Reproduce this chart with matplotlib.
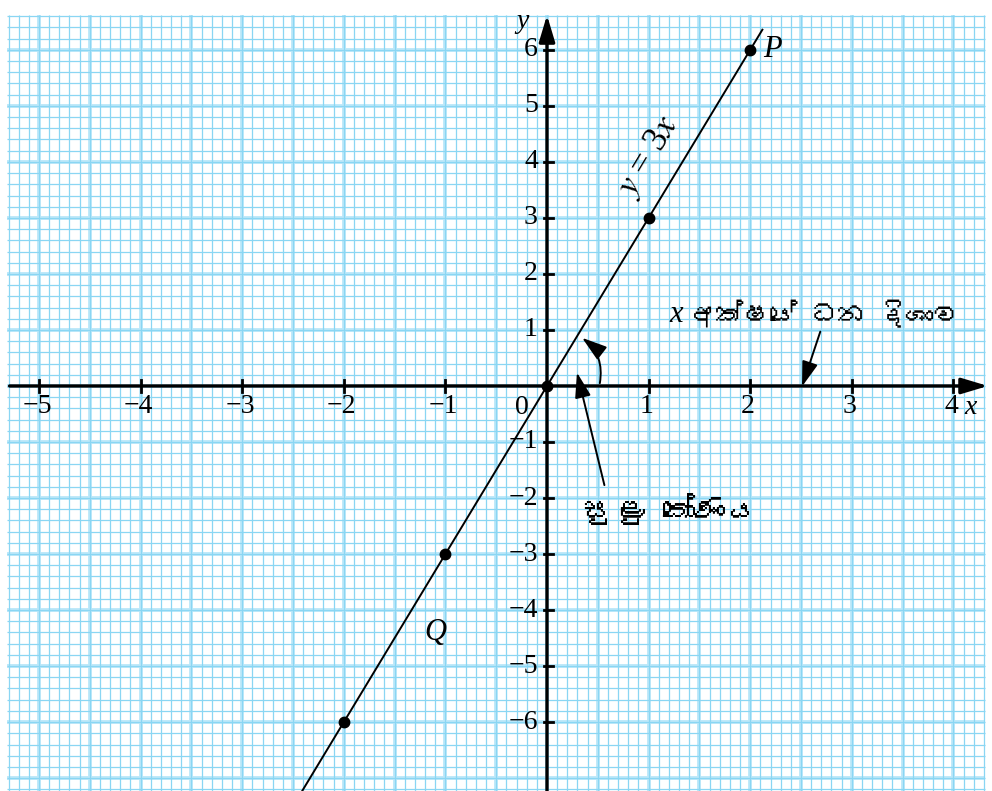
import numpy as np
import matplotlib
matplotlib.use("Agg")
import matplotlib.pyplot as plt
from matplotlib import font_manager

# points on the line y = 3x
pt_x = [-2, -1, 0, 1, 2]
pt_y = [-6, -3, 0, 3, 6]
line_x = [-2.42, 2.12]
x_ticks = [-5, -4, -3, -2, -1, 1, 2, 3, 4]
y_ticks = [-6, -5, -4, -3, -2, -1, 1, 2, 3, 4, 5, 6]
label_pos_dir = "අක්ෂයේ ධන දිශාව"
label_acute = "සුළු කෝණය"


def find_font(ch):
    # look for an installed font that has Sinhala glyphs
    try:
        from fontTools.ttLib import TTFont
    except ImportError:
        return None
    for f in font_manager.fontManager.ttflist:
        try:
            cmap = TTFont(f.fname, fontNumber=0, lazy=True).getBestCmap()
        except Exception:
            continue
        if cmap and ord(ch) in cmap:
            return f.name
    return None


sin_font = find_font("අ")
sin_family = [sin_font, "DejaVu Sans"] if sin_font else ["DejaVu Sans"]
serif = "Liberation Serif"

fig = plt.figure(figsize=(9.92, 7.91), dpi=100)
ax = fig.add_axes([0, 0, 1, 1])
ax.set_xlim(-5.384, 4.380)
ax.set_ylim(-7.23, 6.89)
ax.axis("off")

# graph paper
gx0, gx1, gy0, gy1 = -5.32, 4.31, -7.23, 6.62
xs = np.round(np.arange(-5.3, 4.31, 0.1), 2)
ys = np.round(np.arange(-7.2, 6.61, 0.2), 2)
major_x = xs[np.isclose(xs * 2, np.round(xs * 2))]
major_y = ys[np.isclose(ys, np.round(ys))]
ax.vlines(major_x, gy0, gy1, color="#bde8f9", lw=2.8, zorder=1)
ax.hlines(major_y, gx0, gx1, color="#bde8f9", lw=2.8, zorder=1)
ax.vlines(xs, gy0, gy1, color="#8ad6f3", lw=0.9, zorder=2)
ax.hlines(ys, gx0, gx1, color="#8ad6f3", lw=0.9, zorder=2)

axis_arrow = dict(arrowstyle="-|>,head_length=1.0,head_width=0.3",
                  lw=2.4, color="k", mutation_scale=16, shrinkA=0, shrinkB=0)
ax.annotate("", xy=(4.34, 0), xytext=(-5.29, 0), arrowprops=axis_arrow, zorder=5)
ax.annotate("", xy=(0, 6.62), xytext=(0, -7.3), arrowprops=axis_arrow, zorder=5)

for t in x_ticks:
    ax.plot([t, t], [-0.11, 0.11], color="k", lw=2, zorder=5)
    ax.text(t - 0.02, -0.37, str(t).replace("-", "\u2212"), ha="center", va="center",
            fontsize=20, family=serif, zorder=6)
for t in y_ticks:
    ax.plot([-0.03, 0.06], [t, t], color="k", lw=2, zorder=5)
    ax.text(-0.09, t, str(t).replace("-", "\u2212"), ha="right", va="center",
            fontsize=20, family=serif, zorder=6)
ax.text(-0.25, -0.39, "0", ha="center", va="center", fontsize=20, family=serif)
ax.text(4.17, -0.39, "x", ha="center", va="center", fontsize=20, family=serif, style="italic")
ax.text(-0.24, 6.5, "y", ha="center", va="center", fontsize=20, family=serif, style="italic")

# line y = 3x and points
lx = np.array(line_x)
ax.plot(lx, 3 * lx, color="k", lw=1.4, zorder=7)
ax.plot(pt_x, pt_y, "o", color="k", ms=7.5, zorder=8)
ax.text(2.13, 6.0, "P", ha="left", va="center", fontsize=22, family=serif, style="italic")
ax.text(-1.1, -4.4, "Q", ha="center", va="center", fontsize=22, family=serif, style="italic")
ax.text(1.0, 4.1, "$y$ = 3$x$", rotation=59, ha="center", va="center", fontsize=25,
        family=serif, math_fontfamily="stix", rotation_mode="anchor")

ptr = dict(arrowstyle="-|>,head_length=1.1,head_width=0.35", lw=1.4,
           color="k", mutation_scale=14, shrinkA=0, shrinkB=0)

# angle arc
ax.annotate("", xy=(0.345, 0.86), xytext=(0.52, 0.05),
            arrowprops=dict(ptr, connectionstyle="arc3,rad=0.3"), zorder=9)

# acute angle pointer
ax.annotate("", xy=(0.295, 0.24), xytext=(0.565, -1.77), arrowprops=ptr, zorder=9)
ax.text(1.22, -2.2, label_acute, ha="center", va="center", fontsize=23,
        family=sin_family, fontweight="bold", zorder=9)

# positive x direction pointer
ax.annotate("", xy=(2.51, -0.01), xytext=(2.69, 0.97), arrowprops=ptr, zorder=9)
ax.text(1.27, 1.28, "x", ha="center", va="center", fontsize=22, family=serif,
        style="italic", zorder=9)
ax.text(1.4, 1.28, label_pos_dir, ha="left", va="center", fontsize=19.5,
        family=sin_family, fontweight="bold", zorder=9)

fig.savefig("out.png", dpi=100)
